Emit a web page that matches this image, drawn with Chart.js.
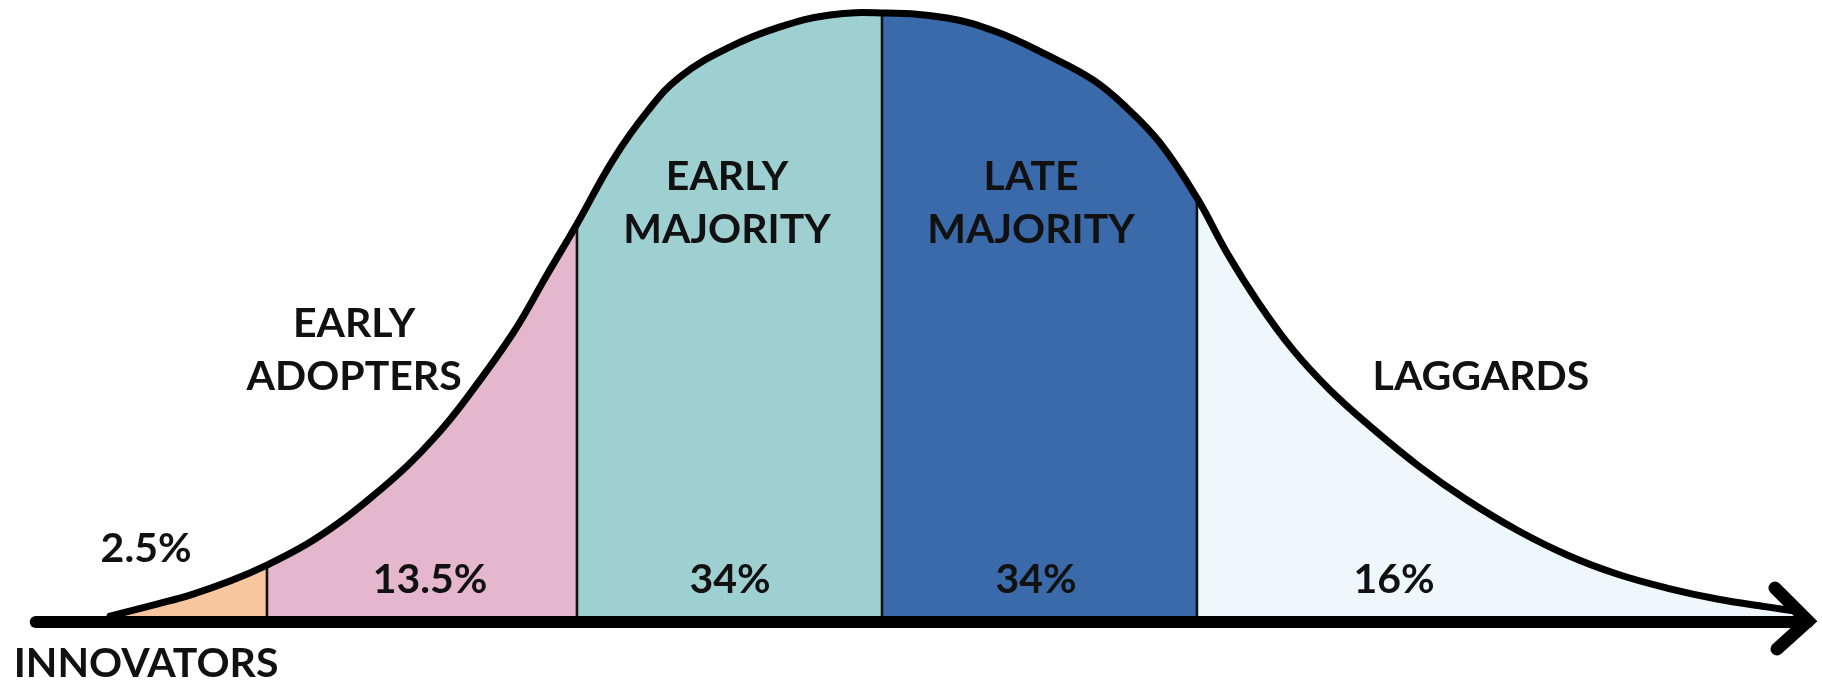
<!DOCTYPE html>
<html>
<head>
<meta charset="utf-8">
<title>Diffusion of innovations</title>
<script src="https://cdn.jsdelivr.net/npm/chart.js@4.4.1/dist/chart.umd.min.js"></script>
<style>
  html, body { margin: 0; padding: 0; background: #fff; }
  #wrap { width: 1822px; height: 680px; }
</style>
</head>
<body>
<div id="wrap"><canvas id="bellChart" width="1822" height="680"></canvas></div>
<script>
// adopter categories, left to right, and their share of the population (%)
const segments = ['INNOVATORS', 'EARLY ADOPTERS', 'EARLY MAJORITY', 'LATE MAJORITY', 'LAGGARDS'];
const shares = [2.5, 13.5, 34, 34, 16];
const segmentColors = ['#F7C59E', '#E4B7CC', '#9FD0D1', '#3B6AAA', '#EEF8FC'];

// the hand drawn bell curve
// x = standard deviations from the mean, y = density
const curveX = [-2.490, -2.339, -2.232, -2.103, -1.984, -1.855, -1.748, -1.642, -1.532, -1.442,
  -1.352, -1.190, -1.081, -0.984, -0.868, -0.758, -0.652, -0.490, -0.329, -0.168, 0,
  0.210, 0.371, 0.532, 0.681, 0.790, 0.897, 1.016, 1.113, 1.219, 1.326, 1.445, 1.581,
  1.735, 1.887, 2.048, 2.210, 2.371, 2.532, 2.694, 2.855, 2.945];
const curveY = [0.0039, 0.0118, 0.0177, 0.0269, 0.0374, 0.0512, 0.0657, 0.0828, 0.1025, 0.1215,
  0.1438, 0.1898, 0.2279, 0.2614, 0.3034, 0.3350, 0.3580, 0.3777, 0.3908, 0.3987, 0.4000,
  0.3967, 0.3875, 0.3724, 0.3560, 0.3376, 0.3146, 0.2785, 0.2424, 0.2082, 0.1787, 0.1524, 0.1274,
  0.1018, 0.0801, 0.0604, 0.0440, 0.0315, 0.0223, 0.0151, 0.0099, 0.0072];

// where one category ends and the next starts (each is also a point of the curve)
const boundaries = [-1.984, -0.984, 0, 1.016];

// the horizontal axis arrow
const axisFrom = -2.73;
const axisTo = 2.987;

// label anchors (value space): category names (baseline of last line) and percentages
const nameAnchors = [[-2.374, -0.0361], [-1.703, 0.1524], [-0.500, 0.2489], [0.481, 0.2489], [1.932, 0.1524]];
const shareAnchors = [[-2.374, 0.0394], [-1.458, 0.0190], [-0.490, 0.0190], [0.497, 0.0190], [1.652, 0.0190]];

const labelFont = 'bold 41px Lato';
const lineHeight = 53;

function curvePoints(from, to) {
  let pts = [];
  for (let i = 0; i < curveX.length; i++) {
    if (curveX[i] >= from - 1e-9 && curveX[i] <= to + 1e-9) {
      pts.push({ x: curveX[i], y: curveY[i] });
    }
  }
  return pts;
}

function buildDatasets() {
  let datasets = [];
  const edges = [curveX[0]].concat(boundaries, [curveX[curveX.length - 1]]);

  // coloured areas under the curve, one per category
  for (let i = 0; i < segments.length; i++) {
    datasets.push({
      label: segments[i],
      data: curvePoints(edges[i], edges[i + 1]),
      backgroundColor: segmentColors[i],
      borderColor: 'transparent',
      borderWidth: 0,
      fill: 'origin',
      order: 4
    });
  }

  // thin dividers from the axis up to the curve
  boundaries.forEach(function (b) {
    const top = curveY[curveX.indexOf(b)];
    datasets.push({
      label: 'divider',
      data: [{ x: b, y: 0 }, { x: b, y: top }],
      borderColor: '#111',
      borderWidth: 2.6,
      fill: false,
      tension: 0,
      order: 3
    });
  });

  // the curve itself
  datasets.push({
    label: 'curve',
    data: curvePoints(curveX[0], curveX[curveX.length - 1]),
    borderColor: '#000',
    borderWidth: 7,
    borderCapStyle: 'round',
    fill: false,
    order: 2
  });

  // axis line
  datasets.push({
    label: 'axis',
    data: [{ x: axisFrom, y: 0 }, { x: axisTo, y: 0 }],
    borderColor: '#000',
    borderWidth: 12,
    borderCapStyle: 'round',
    fill: false,
    tension: 0,
    order: 1
  });

  return datasets;
}

// draw the arrow head at the end of the axis
const arrowHead = {
  id: 'arrowHead',
  afterDatasetsDraw(chart) {
    const ctx = chart.ctx;
    const px = chart.scales.x.getPixelForValue(axisTo);
    const py = chart.scales.y.getPixelForValue(0);
    ctx.save();
    ctx.strokeStyle = '#000';
    ctx.lineWidth = 13;
    ctx.lineCap = 'round';
    ctx.lineJoin = 'miter';
    ctx.beginPath();
    ctx.moveTo(px - 33, py - 34);
    ctx.lineTo(px, py - 1);
    ctx.lineTo(px - 31, py + 27);
    ctx.stroke();
    ctx.restore();
  }
};

// category names and percentages
const segmentLabels = {
  id: 'segmentLabels',
  afterDatasetsDraw(chart) {
    const ctx = chart.ctx;
    const xs = chart.scales.x;
    const ys = chart.scales.y;
    ctx.save();
    ctx.font = labelFont;
    ctx.fillStyle = '#111';
    ctx.textAlign = 'center';
    ctx.textBaseline = 'alphabetic';
    for (let i = 0; i < segments.length; i++) {
      const words = segments[i].split(' ');
      const nx = xs.getPixelForValue(nameAnchors[i][0]);
      const ny = ys.getPixelForValue(nameAnchors[i][1]);
      // last line sits on the anchor, earlier lines above it
      for (let w = 0; w < words.length; w++) {
        ctx.fillText(words[w], nx, ny - (words.length - 1 - w) * lineHeight);
      }
      const sx = xs.getPixelForValue(shareAnchors[i][0]);
      const sy = ys.getPixelForValue(shareAnchors[i][1]);
      ctx.fillText(shares[i] + '%', sx, sy);
    }
    ctx.restore();
  }
};

const bellChart = new Chart(document.getElementById('bellChart'), {
  type: 'line',
  data: { datasets: buildDatasets() },
  options: {
    responsive: false,
    animation: false,
    devicePixelRatio: 1,
    layout: { padding: 0 },
    elements: {
      point: { radius: 0, hoverRadius: 0 },
      line: { tension: 0.4 }
    },
    datasets: { line: { clip: false } },
    plugins: {
      legend: { display: false },
      tooltip: { enabled: false },
      title: { display: false }
    },
    scales: {
      x: { type: 'linear', min: -2.8452, max: 3.0323, display: false },
      y: { type: 'linear', min: -0.0381, max: 0.4085, display: false }
    }
  },
  plugins: [arrowHead, segmentLabels]
});
</script>
</body>
</html>
